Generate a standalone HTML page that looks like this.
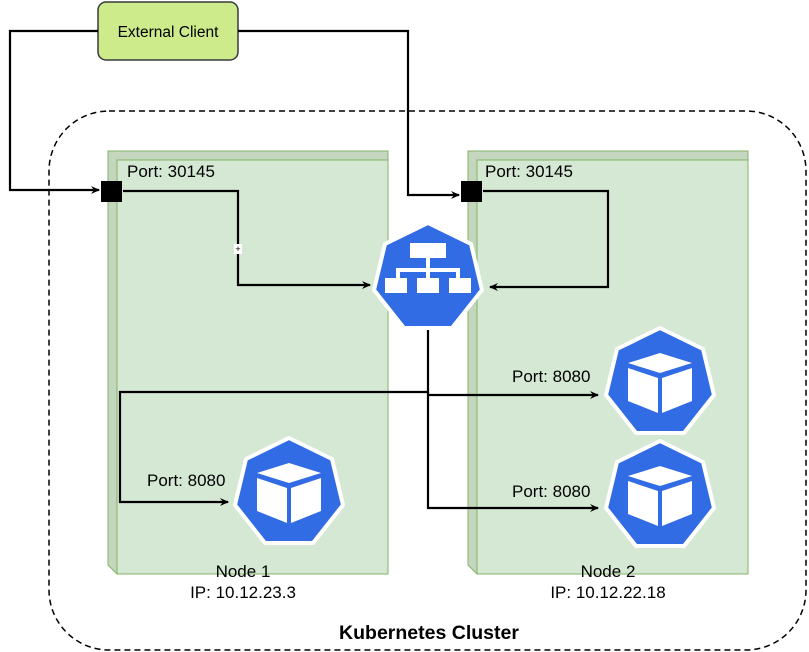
<!DOCTYPE html>
<html><head><style>body{margin:0;background:#fff}svg{display:block}text{font-family:"Liberation Sans",sans-serif}</style></head><body>
<svg width="809" height="652" viewBox="0 0 809 652" xmlns="http://www.w3.org/2000/svg">
<defs>
<marker id="a" markerWidth="10" markerHeight="10" refX="8" refY="5" orient="auto" markerUnits="userSpaceOnUse"><path d="M0,1 L9,5 L0,9 L3,5z" fill="#000"/></marker>
</defs>
<rect x="49" y="111" width="757" height="539" rx="60" fill="none" stroke="#000" stroke-width="1.5" stroke-dasharray="6,4"/>
<g stroke="#82b366" stroke-width="1">
<polygon points="108,151 388,151 388,574 117,574 108,565" fill="#c5d6bf"/>
<rect x="117" y="160" width="271" height="414" fill="#d5e8d4"/>
<polygon points="468,151 748,151 748,574 477,574 468,565" fill="#c5d6bf"/>
<rect x="477" y="160" width="271" height="414" fill="#d5e8d4"/>
</g>
<rect x="98" y="2" width="140" height="58" rx="8" fill="#cdeb8b" stroke="#36393d" stroke-width="1.5"/>
<text x="168" y="37" font-size="15.5" text-anchor="middle">External Client</text>
<g fill="none" stroke="#000" stroke-width="2.2">
<path d="M98,31 H10 V190 H99" marker-end="url(#a)"/>
<path d="M238,31 H408 V195 H459" marker-end="url(#a)"/>
<path d="M123,191 H238 V285 H370" marker-end="url(#a)"/>
<path d="M483,191 H608 V287 H490" marker-end="url(#a)"/>
<path d="M428,328 V392 H120 V502 H228" marker-end="url(#a)"/>
<path d="M428,392 V395 H598" marker-end="url(#a)"/>
<path d="M428,395 V508 H598" marker-end="url(#a)"/>
</g>
<rect x="101" y="181" width="21" height="21" fill="#000"/>
<rect x="461" y="181" width="21" height="21" fill="#000"/>
<rect x="234" y="244" width="8" height="10" fill="#fff"/><text x="238" y="252" font-size="9" text-anchor="middle">+</text>
<g font-size="17" fill="#000">
<text x="127" y="177">Port: 30145</text>
<text x="485" y="177">Port: 30145</text>
<text x="512" y="382">Port: 8080</text>
<text x="512" y="497">Port: 8080</text>
<text x="147" y="486">Port: 8080</text>
<text x="243" y="577" text-anchor="middle">Node 1</text>
<text x="243" y="598" text-anchor="middle">IP: 10.12.23.3</text>
<text x="608" y="577" text-anchor="middle">Node 2</text>
<text x="608" y="598" text-anchor="middle">IP: 10.12.22.18</text>
<text x="429" y="639" text-anchor="middle" font-weight="bold" font-size="19.5">Kubernetes Cluster</text>
</g>
<g transform="translate(428,278)">
<polygon points="0,-55 43,-34 54,12 24,50 -24,50 -54,12 -43,-34" fill="#326ce5" stroke="#fff" stroke-width="4" stroke-linejoin="round"/>
<g fill="#fff"><rect x="-18" y="-35" width="36" height="15"/><rect x="-2" y="-20" width="4" height="12"/><rect x="-32" y="-10" width="64" height="4"/><rect x="-32" y="-8" width="4" height="8"/><rect x="-2" y="-8" width="4" height="8"/><rect x="28" y="-8" width="4" height="8"/><rect x="-43" y="0" width="22" height="15"/><rect x="-11" y="0" width="22" height="15"/><rect x="21" y="0" width="22" height="15"/></g>
</g>
<g id="p" transform="translate(660,383)">
<polygon points="0,-55 43,-34 54,12 24,50 -24,50 -54,12 -43,-34" fill="#326ce5" stroke="#fff" stroke-width="4" stroke-linejoin="round"/>
<polygon points="0,-30 32,-20 0,-10 -32,-20" fill="#fff"/>
<polygon points="-32,-15 -2,-5 -2,30 -32,18" fill="#fff"/>
<polygon points="32,-15 2,-5 2,30 32,18" fill="#fff"/>
</g>
<use href="#p" transform="translate(0,113)"/>
<use href="#p" transform="translate(-371,110)"/>
</svg>
</body></html>
